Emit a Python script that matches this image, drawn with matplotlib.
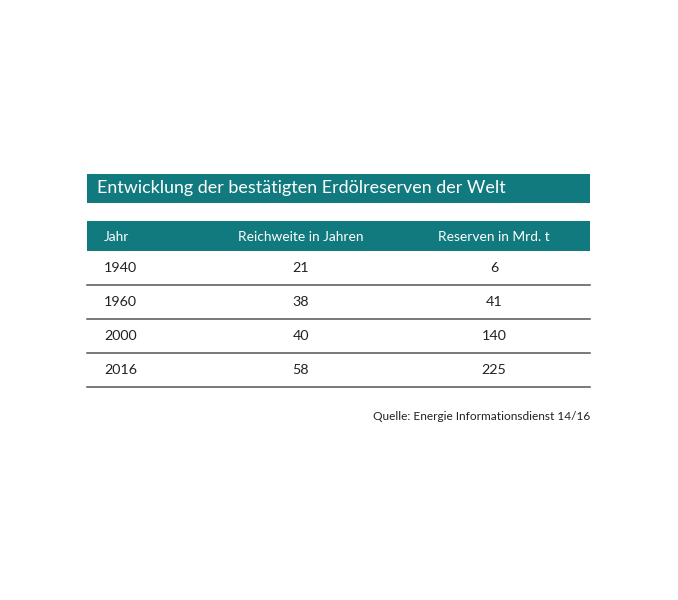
import matplotlib
matplotlib.use('Agg')
from matplotlib import pyplot as plt
from matplotlib.patches import Rectangle

# Daten der Tabelle
title = "Entwicklung der bestätigten Erdölreserven der Welt"
headers = ["Jahr", "Reichweite in Jahren", "Reserven in Mrd. t"]
jahre = ["1940", "1960", "2000", "2016"]
reichweite = ["21", "38", "40", "58"]
reserven = ["6", "41", "140", "225"]
quelle = "Quelle: Energie Informationsdienst 14/16"

teal = '#107a7e'
plt.rcParams['font.family'] = ['Lato', 'DejaVu Sans']

fig = plt.figure(figsize=(6.78, 6.0), dpi=100)
ax = fig.add_axes([0, 0, 1, 1])
ax.set_xlim(0, 678)
ax.set_ylim(600, 0)
ax.axis('off')

left, right = 87, 590
col_x = [104, 301, 494]

# Titelbalken
ax.add_patch(Rectangle((left, 174), right - left, 29, color=teal, lw=0))
ax.text(97, 188.5, title, color='white', fontsize=12.9, va='center', ha='left')

# Kopfzeile
ax.add_patch(Rectangle((left, 221), right - left, 30, color=teal, lw=0))
ax.text(col_x[0], 237, headers[0], color='white', fontsize=9.9, va='center', ha='left')
ax.text(col_x[1], 237, headers[1], color='white', fontsize=9.9, va='center', ha='center')
ax.text(col_x[2], 237, headers[2], color='white', fontsize=9.9, va='center', ha='center')

# Zeilen
row_h = 34
for i in range(len(jahre)):
    yc = 268 + i * row_h
    ax.text(col_x[0], yc, jahre[i], color='#222222', fontsize=10.3, va='center', ha='left')
    ax.text(col_x[1], yc, reichweite[i], color='#222222', fontsize=10.3, va='center', ha='center')
    ax.text(col_x[2], yc, reserven[i], color='#222222', fontsize=10.3, va='center', ha='center')
    ax.plot([left, right], [yc + 17, yc + 17], color='#555555', lw=1.1)

ax.text(right, 417, quelle, color='#222222', fontsize=8.6, va='center', ha='right')

plt.savefig('out.png', dpi=100)
